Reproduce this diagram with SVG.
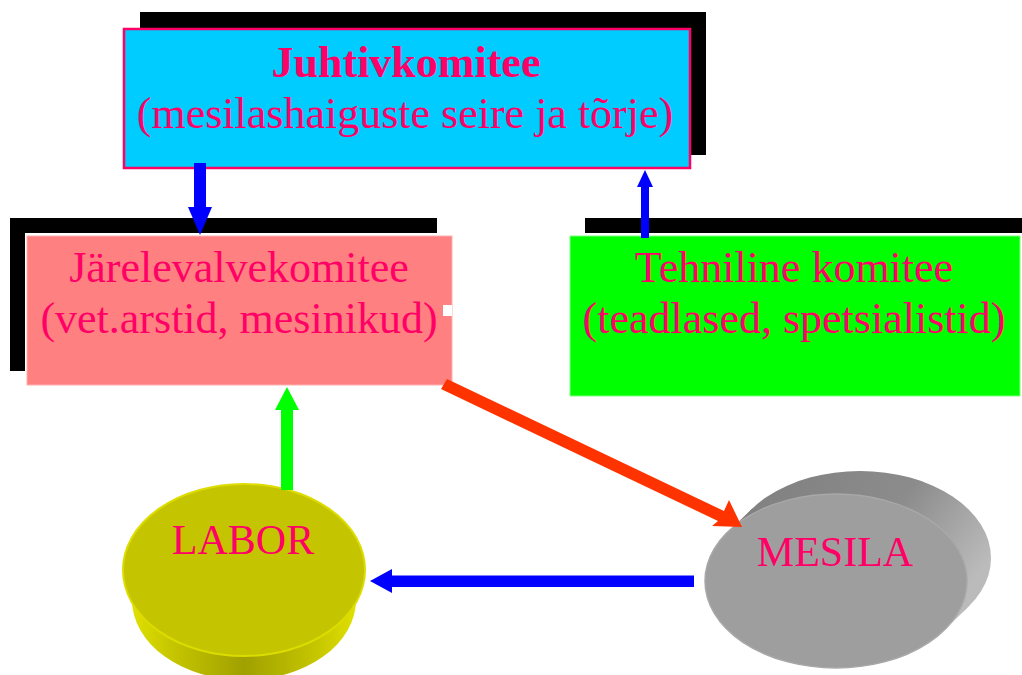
<svg xmlns="http://www.w3.org/2000/svg" width="1022" height="675" viewBox="0 0 1022 675">
<defs>
<style>
.t{font-family:"Liberation Serif","Times New Roman",serif;font-size:44px;fill:#FF0066;text-anchor:middle}
.b{font-weight:bold}
.s{fill:#000}
</style>
<linearGradient id="labSide" x1="0" y1="0" x2="1" y2="0">
<stop offset="0" stop-color="#E6E600"/>
<stop offset="0.2" stop-color="#C6C600"/>
<stop offset="0.5" stop-color="#A0A000"/>
<stop offset="0.8" stop-color="#C6C600"/>
<stop offset="1" stop-color="#E6E600"/>
</linearGradient>
<linearGradient id="mesBack" x1="0" y1="0" x2="1" y2="0.5">
<stop offset="0" stop-color="#7E7E7E"/>
<stop offset="0.6" stop-color="#8C8C8C"/>
<stop offset="1" stop-color="#BBBBBB"/>
</linearGradient>
</defs>
<rect width="1022" height="675" fill="#fff"/>

<g id="juhtivkomitee">
<rect class="s" x="140" y="12" width="566" height="143"/>
<rect x="124" y="29" width="566" height="139" fill="#00CCFF" stroke="#FF0066" stroke-width="2.5"/>
<text class="t b" x="406" y="77">Juhtivkomitee</text>
<text class="t" x="405" y="128">(mesilashaiguste seire ja tõrje)</text>
</g>

<g id="jarelevalvekomitee">
<rect class="s" x="10" y="218" width="427" height="15"/>
<rect class="s" x="10" y="218" width="15" height="153"/>
<rect x="27" y="236" width="425" height="149" fill="#FF8080" stroke="#FFB0B0" stroke-width="1"/>
<rect x="443" y="305" width="9" height="11" fill="#fff"/>
<text class="t" x="239" y="282">Järelevalvekomitee</text>
<text class="t" x="239" y="333">(vet.arstid, mesinikud)</text>
</g>

<g id="tehniline">
<rect class="s" x="585" y="218" width="437" height="15"/>
<rect x="570" y="236" width="450" height="160" fill="#00FF00" stroke="#80FF80" stroke-width="1"/>
<text class="t" x="794" y="282">Tehniline komitee</text>
<text class="t" x="794" y="333">(teadlased, spetsialistid)</text>
</g>

<g id="labor">
<path d="M123,570 L132,600 A112,80 0 0 0 356,600 L365,570 Z" fill="url(#labSide)"/>
<ellipse cx="244" cy="570" rx="121" ry="86" fill="#C4C400" stroke="#DCDC00" stroke-width="2"/>
<text class="t" x="243" y="554" style="font-size:42px">LABOR</text>
</g>

<g id="mesila">
<ellipse cx="860" cy="558" rx="131" ry="87" fill="url(#mesBack)"/>
<polygon points="728.3,531.5 752.3,508.5 967.7,607.5 943.7,630.5" fill="url(#mesBack)"/>
<ellipse cx="836" cy="581" rx="131" ry="87" fill="#9E9E9E" stroke="#A8A8A8" stroke-width="1.5"/>
<text class="t" x="835" y="566" style="font-size:42px">MESILA</text>
</g>

<g id="connectors">
<rect x="194" y="163" width="12" height="45" fill="#0000FF"/>
<polygon points="188,207 212,207 200,235" fill="#0000FF"/>
<rect x="641" y="185" width="8" height="53" fill="#0000FF"/>
<polygon points="637,187 653,187 645,170" fill="#0000FF"/>
<rect x="281" y="409" width="12" height="81" fill="#00FF00"/>
<polygon points="275,410 299,410 287,387" fill="#00FF00"/>
<polygon points="447,379 724,511 729,500 742,527 712,526 718,521 441,389" fill="#FF3300"/>
<rect x="392" y="575.5" width="302" height="11.5" fill="#0000FF"/>
<polygon points="392,569 392,593 370,581" fill="#0000FF"/>
</g>
</svg>
